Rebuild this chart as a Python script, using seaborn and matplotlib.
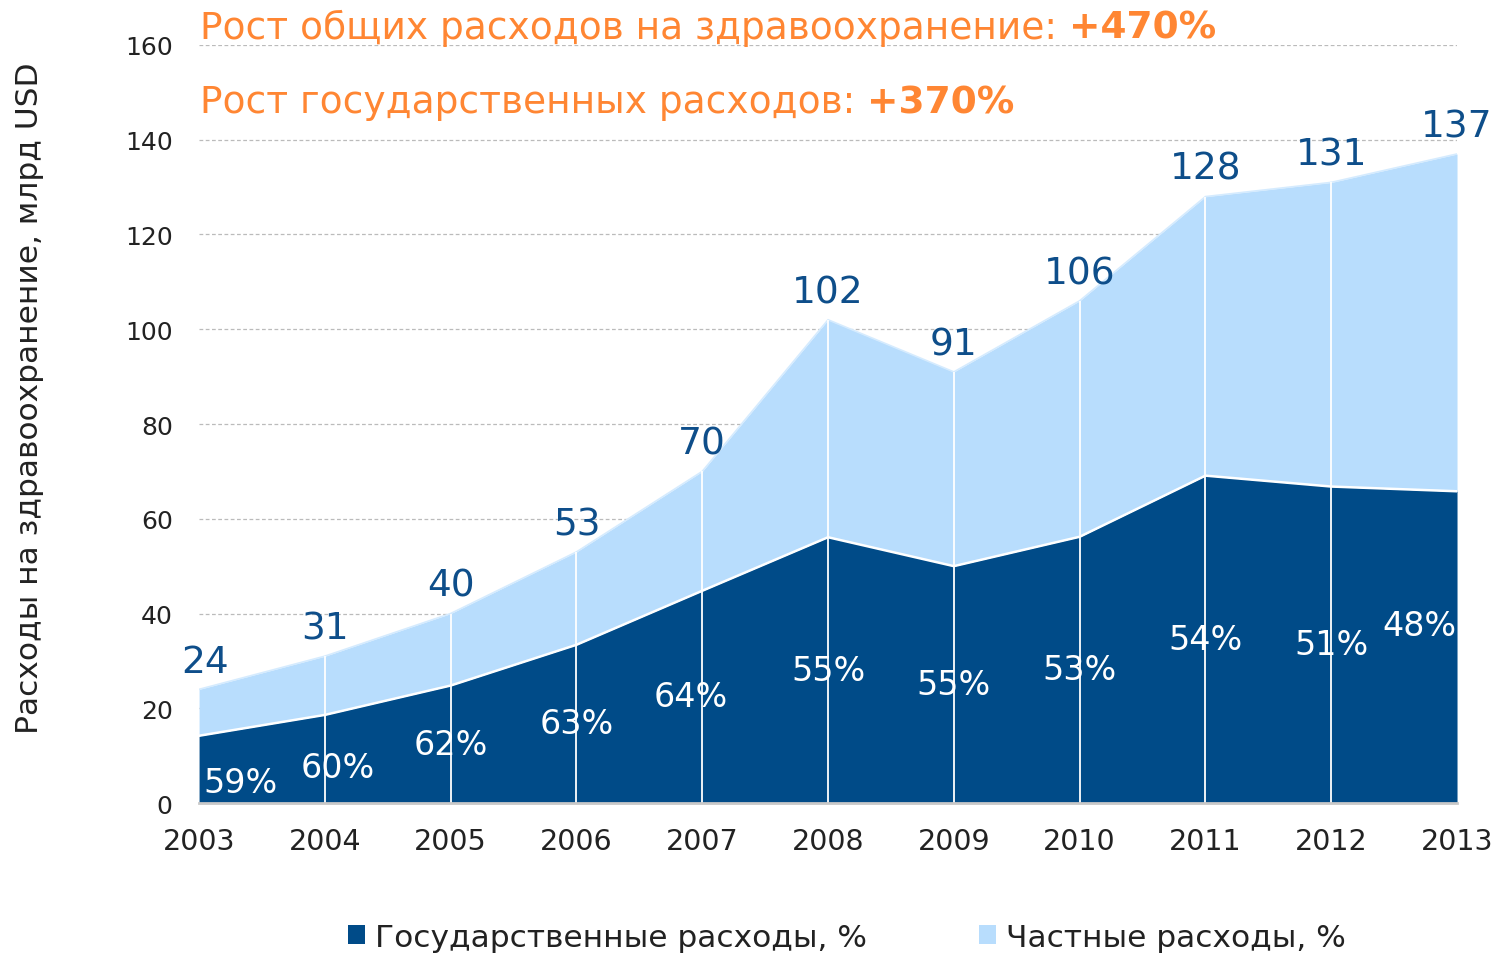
import numpy as np
import pandas as pd
import matplotlib.pyplot as plt
import seaborn as sns

# данные
годы = [2003, 2004, 2005, 2006, 2007, 2008, 2009, 2010, 2011, 2012, 2013]
всего = [24, 31, 40, 53, 70, 102, 91, 106, 128, 131, 137]
гос = [14.2, 18.6, 24.8, 33.4, 44.8, 56.1, 50.0, 56.2, 69.1, 66.8, 65.8]
доля_гос = [59, 60, 62, 63, 64, 55, 55, 53, 54, 51, 48]
частные = [t - g for t, g in zip(всего, гос)]

df = pd.DataFrame({'Год': годы, 'Всего': всего, 'Гос': гос})

ТЕМНЫЙ = '#004B88'
СВЕТЛЫЙ = '#B8DDFD'
ОРАНЖ = '#FF8633'
ПОДПИСЬ = '#0E4E8A'

sns.set_theme(style='white')
plt.rcParams['font.family'] = ['DejaVu Sans']

fig = plt.figure(figsize=(14.99, 9.54), dpi=100)
ax = fig.add_axes([0.1328, 0.1572, 0.8392, 0.7946])

# сетка
for y in range(20, 161, 20):
    ax.axhline(y, color='#BBBBBB', lw=0.9, ls=(0, (3, 2)), zorder=0)

обл = ax.stackplot(df['Год'], гос, частные, colors=[ТЕМНЫЙ, СВЕТЛЫЙ],
                   zorder=2, lw=0)
sns.lineplot(data=df, x='Год', y='Гос', color='white', lw=1.8, ax=ax, zorder=3, legend=False)
sns.lineplot(data=df, x='Год', y='Всего', color='#D5EBFE', lw=1.2, ax=ax, zorder=3, legend=False)
ax.vlines(годы[1:-1], 0, всего[1:-1], color='white', lw=1.3, zorder=3)

# подписи итогов
for x, t in zip(годы, всего):
    dx = 4 if x == 2003 else 0
    ax.annotate(str(t), (x, t), xytext=(dx, 7), textcoords='offset points',
                ha='center', va='bottom', fontsize=27, color=ПОДПИСЬ, zorder=5)

# доли государства
сдвиг_x = {2003: 0.33, 2004: 0.1, 2007: -0.09, 2013: -0.3}
сдвиг_y = {2003: -2.8, 2004: -1.7, 2013: 4.5}
for x, g, p in zip(годы, гос, доля_гос):
    ax.text(x + сдвиг_x.get(x, 0), g / 2 + сдвиг_y.get(x, 0), f'{p}%',
            ha='center', va='center', fontsize=24, color='white', zorder=5)

ax.set_xlim(2003, 2013)
ax.set_ylim(0, 160)
ax.set_xticks(годы)
ax.set_yticks(range(0, 161, 20))
ax.tick_params(axis='x', labelsize=20.5, colors='#222222', pad=11)
ax.tick_params(axis='y', labelsize=18, colors='#222222', pad=13)
ax.set_xlabel('')
ax.set_ylabel('Расходы на здравоохранение, млрд USD', fontsize=22.5,
              color='#222222')
ax.yaxis.set_label_coords(-0.123, 0.535)
for s in ['top', 'right', 'left']:
    ax.spines[s].set_visible(False)
ax.spines['bottom'].set_color('#C8C8C8')
ax.spines['bottom'].set_linewidth(2)
ax.spines['bottom'].set_zorder(4)

fig.text(0.1335, 0.97, 'Рост общих расходов на здравоохранение: ', fontsize=27,
         color=ОРАНЖ, va='center')
fig.text(0.1335, 0.892, 'Рост государственных расходов: ', fontsize=27,
         color=ОРАНЖ, va='center')

# допишем жирные проценты после обычного текста
fig.canvas.draw()
r = fig.canvas.get_renderer()
for t, val in zip(fig.texts[:2], ['+470%', '+370%']):
    bb = t.get_window_extent(r)
    fig.text(bb.x1 / fig.bbox.width, t.get_position()[1], val, fontsize=27,
             color=ОРАНЖ, fontweight='bold', va='center')

leg = fig.legend(обл, ['Государственные расходы, %', 'Частные расходы, %'],
                 loc='lower center', bbox_to_anchor=(0.565, -0.028), ncol=2,
                 frameon=False, handlelength=0.55, handleheight=0.55,
                 handletextpad=0.3, columnspacing=3.6,
                 prop={'size': 22.5})
for t in leg.get_texts():
    t.set_color('#222222')

fig.savefig('out.png', dpi=100)
